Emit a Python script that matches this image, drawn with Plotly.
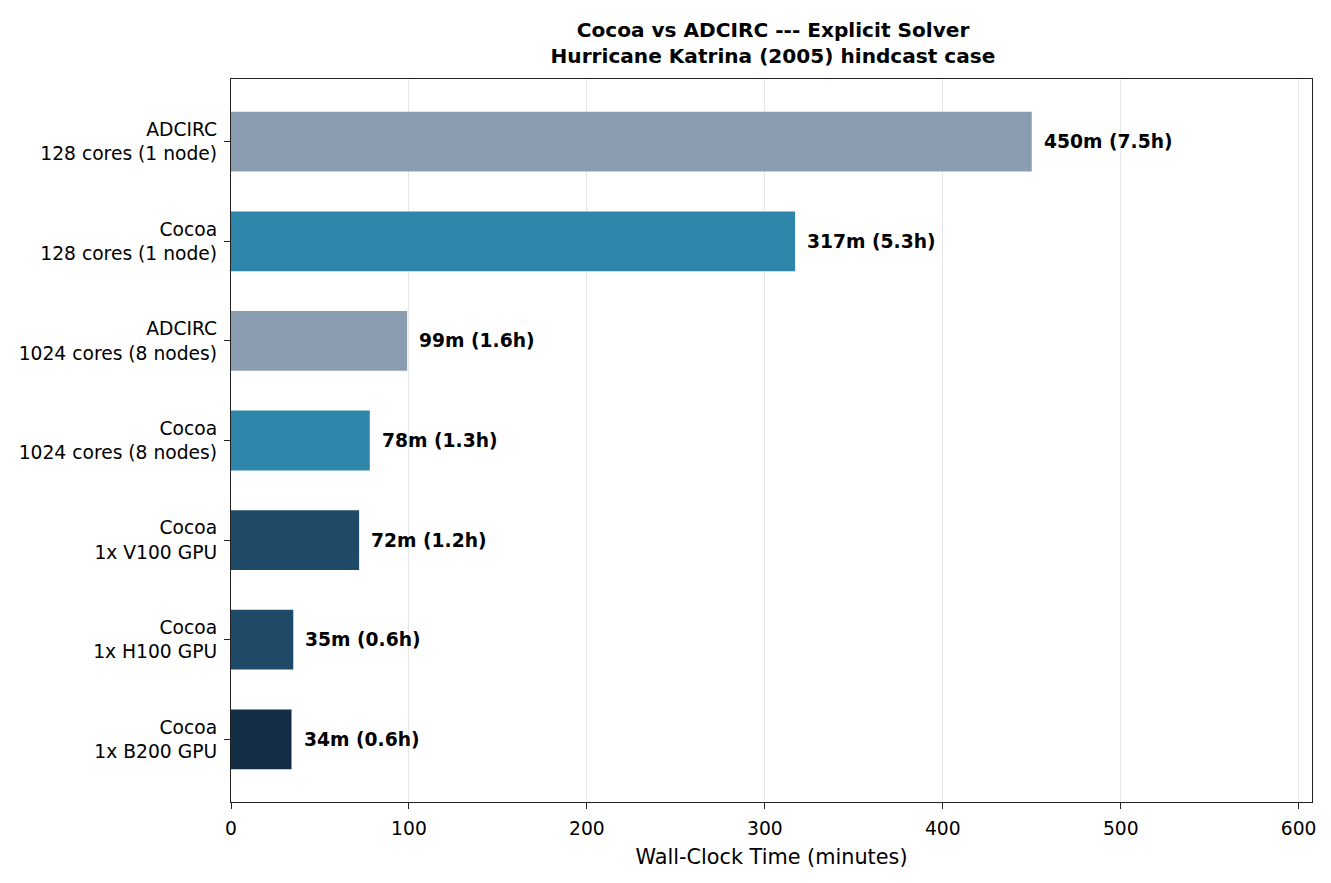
import plotly.graph_objects as go

# rows top -> bottom as in the chart
LABELS = [
    "ADCIRC<br>128 cores (1 node)",
    "Cocoa<br>128 cores (1 node)",
    "ADCIRC<br>1024 cores (8 nodes)",
    "Cocoa<br>1024 cores (8 nodes)",
    "Cocoa<br>1x V100 GPU",
    "Cocoa<br>1x H100 GPU",
    "Cocoa<br>1x B200 GPU",
]
MINUTES = [450, 317, 99, 78, 72, 35, 34]
BAR_TEXT = [
    "450m (7.5h)",
    "317m (5.3h)",
    "99m (1.6h)",
    "78m (1.3h)",
    "72m (1.2h)",
    "35m (0.6h)",
    "34m (0.6h)",
]
COLORS = ["#8a9caf", "#2e87ab", "#8a9caf", "#2e87ab", "#1e4a67", "#1e4a67", "#122d45"]
X_TICKS = [0, 100, 200, 300, 400, 500, 600]

FONT = "DejaVu Sans"
TICK_SIZE = 18.7
LABEL_SIZE = 20.8
TITLE_SIZE = 20.1

# page body has an 8px margin, so the figure is a bit smaller than the window
W, H = 1315, 867

fig = go.Figure()

fig.add_trace(
    go.Bar(
        x=MINUTES,
        y=LABELS,
        orientation="h",
        width=0.6,
        marker=dict(color=COLORS, line=dict(width=0)),
        hoverinfo="skip",
    )
)

# value labels right of each bar
for lab, val, txt in zip(LABELS, MINUTES, BAR_TEXT):
    fig.add_annotation(
        x=val,
        y=lab,
        text="<b>" + txt + "</b>",
        showarrow=False,
        xanchor="left",
        yanchor="middle",
        xshift=10,
        font=dict(family=FONT, size=TICK_SIZE, color="black"),
    )

fig.update_layout(
    width=W,
    height=H,
    margin=dict(l=223, r=7, t=71, b=73),
    paper_bgcolor="white",
    plot_bgcolor="white",
    showlegend=False,
    font=dict(family=FONT, size=TICK_SIZE, color="black"),
    title=dict(
        text="<b>Cocoa vs ADCIRC --- Explicit Solver<br>Hurricane Katrina (2005) hindcast case</b>",
        x=765 / W,
        xanchor="center",
        y=1 - 29 / H,
        yanchor="middle",
        font=dict(family=FONT, size=TITLE_SIZE, color="black"),
    ),
)

fig.update_xaxes(
    range=[0, 607.5],
    tickvals=X_TICKS,
    ticks="outside",
    ticklen=6,
    tickcolor="#222",
    ticklabelstandoff=3,
    showgrid=True,
    gridcolor="rgba(176,176,176,0.3)",
    gridwidth=1.3,
    layer="above traces",
    zeroline=False,
    showline=True,
    linecolor="#222",
    linewidth=1.3,
    mirror=True,
    title=dict(text="Wall-Clock Time (minutes)", standoff=11, font=dict(size=LABEL_SIZE)),
)
fig.update_yaxes(
    autorange=False,
    range=[6.63, -0.63],
    categoryorder="array",
    categoryarray=LABELS,
    ticks="outside",
    ticklen=6,
    tickcolor="#222",
    ticklabelstandoff=3,
    showgrid=False,
    showline=True,
    linecolor="#222",
    linewidth=1.3,
    mirror=True,
)

fig.write_html("out.html")
